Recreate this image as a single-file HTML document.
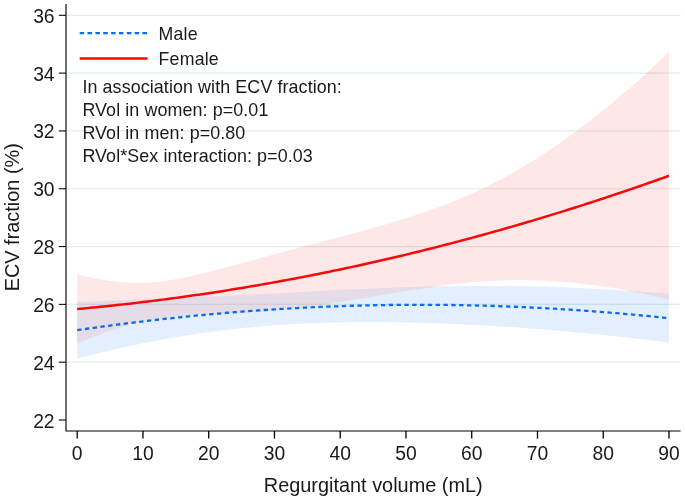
<!DOCTYPE html>
<html><head><meta charset="utf-8"><style>
html,body{margin:0;padding:0;background:#fff;width:685px;height:503px;overflow:hidden}
svg{display:block;will-change:transform}
text{font-family:"Liberation Sans",sans-serif;fill:#1a1a1a}
</style></head><body>
<svg width="685" height="503" viewBox="0 0 685 503">
<rect width="685" height="503" fill="#fff"/>
<line x1="66.6" y1="362.19" x2="680.6" y2="362.19" stroke="#e0ecec" stroke-width="1.2"/>
<line x1="66.6" y1="304.37" x2="680.6" y2="304.37" stroke="#e0ecec" stroke-width="1.2"/>
<line x1="66.6" y1="246.56" x2="680.6" y2="246.56" stroke="#e0ecec" stroke-width="1.2"/>
<line x1="66.6" y1="188.74" x2="680.6" y2="188.74" stroke="#e0ecec" stroke-width="1.2"/>
<line x1="66.6" y1="130.93" x2="680.6" y2="130.93" stroke="#e0ecec" stroke-width="1.2"/>
<line x1="66.6" y1="73.11" x2="680.6" y2="73.11" stroke="#e0ecec" stroke-width="1.2"/>
<line x1="66.6" y1="15.30" x2="680.6" y2="15.30" stroke="#e0ecec" stroke-width="1.2"/>
<path d="M77.20,302.01 80.49,301.88 83.78,301.75 87.06,301.63 90.35,301.50 93.64,301.37 96.93,301.24 100.21,301.12 103.50,300.99 106.79,300.86 110.08,300.74 113.37,300.61 116.65,300.48 119.94,300.36 123.23,300.23 126.52,300.10 129.80,299.97 133.09,299.85 136.38,299.72 139.67,299.59 142.96,299.46 146.24,299.33 149.53,299.20 152.82,299.07 156.11,298.94 159.39,298.81 162.68,298.68 165.97,298.54 169.26,298.41 172.55,298.27 175.83,298.14 179.12,298.00 182.41,297.86 185.70,297.72 188.98,297.58 192.27,297.44 195.56,297.29 198.85,297.15 202.14,297.00 205.42,296.85 208.71,296.71 212.00,296.56 215.29,296.40 218.57,296.25 221.86,296.10 225.15,295.94 228.44,295.78 231.73,295.63 235.01,295.47 238.30,295.30 241.59,295.14 244.88,294.98 248.16,294.81 251.45,294.65 254.74,294.48 258.03,294.31 261.32,294.14 264.60,293.97 267.89,293.80 271.18,293.63 274.47,293.45 277.75,293.28 281.04,293.11 284.33,292.93 287.62,292.76 290.91,292.58 294.19,292.41 297.48,292.23 300.77,292.06 304.06,291.88 307.34,291.71 310.63,291.53 313.92,291.36 317.21,291.19 320.50,291.02 323.78,290.85 327.07,290.68 330.36,290.51 333.65,290.34 336.93,290.18 340.22,290.01 343.51,289.85 346.80,289.69 350.09,289.53 353.37,289.38 356.66,289.22 359.95,289.07 363.24,288.92 366.52,288.77 369.81,288.63 373.10,288.49 376.39,288.35 379.68,288.22 382.96,288.08 386.25,287.96 389.54,287.83 392.83,287.71 396.11,287.59 399.40,287.47 402.69,287.36 405.98,287.25 409.27,287.15 412.55,287.05 415.84,286.95 419.13,286.86 422.42,286.77 425.70,286.69 428.99,286.61 432.28,286.53 435.57,286.46 438.86,286.39 442.14,286.33 445.43,286.27 448.72,286.22 452.01,286.17 455.29,286.12 458.58,286.08 461.87,286.05 465.16,286.02 468.45,285.99 471.73,285.97 475.02,285.95 478.31,285.94 481.60,285.94 484.88,285.93 488.17,285.94 491.46,285.94 494.75,285.96 498.04,285.98 501.32,286.00 504.61,286.03 507.90,286.06 511.19,286.10 514.47,286.14 517.76,286.19 521.05,286.24 524.34,286.30 527.63,286.37 530.91,286.43 534.20,286.51 537.49,286.59 540.78,286.67 544.06,286.76 547.35,286.85 550.64,286.95 553.93,287.06 557.22,287.17 560.50,287.28 563.79,287.40 567.08,287.53 570.37,287.66 573.65,287.79 576.94,287.93 580.23,288.08 583.52,288.23 586.81,288.39 590.09,288.55 593.38,288.71 596.67,288.88 599.96,289.06 603.24,289.24 606.53,289.43 609.82,289.62 613.11,289.81 616.40,290.01 619.68,290.22 622.97,290.43 626.26,290.64 629.55,290.86 632.83,291.09 636.12,291.32 639.41,291.55 642.70,291.79 645.99,292.04 649.27,292.29 652.56,292.54 655.85,292.80 659.14,293.06 662.42,293.33 665.71,293.60 669.00,293.88 L669.00,342.64 665.71,342.21 662.42,341.79 659.14,341.37 655.85,340.96 652.56,340.55 649.27,340.14 645.99,339.74 642.70,339.35 639.41,338.96 636.12,338.57 632.83,338.19 629.55,337.81 626.26,337.44 622.97,337.07 619.68,336.71 616.40,336.35 613.11,335.99 609.82,335.64 606.53,335.29 603.24,334.95 599.96,334.62 596.67,334.28 593.38,333.95 590.09,333.63 586.81,333.31 583.52,332.99 580.23,332.68 576.94,332.38 573.65,332.07 570.37,331.77 567.08,331.48 563.79,331.19 560.50,330.90 557.22,330.62 553.93,330.34 550.64,330.07 547.35,329.80 544.06,329.54 540.78,329.28 537.49,329.02 534.20,328.77 530.91,328.52 527.63,328.28 524.34,328.04 521.05,327.80 517.76,327.57 514.47,327.35 511.19,327.12 507.90,326.91 504.61,326.69 501.32,326.48 498.04,326.28 494.75,326.08 491.46,325.88 488.17,325.69 484.88,325.50 481.60,325.32 478.31,325.14 475.02,324.97 471.73,324.80 468.45,324.63 465.16,324.47 461.87,324.32 458.58,324.17 455.29,324.02 452.01,323.88 448.72,323.74 445.43,323.61 442.14,323.48 438.86,323.36 435.57,323.24 432.28,323.13 428.99,323.03 425.70,322.92 422.42,322.83 419.13,322.73 415.84,322.65 412.55,322.57 409.27,322.49 405.98,322.42 402.69,322.36 399.40,322.30 396.11,322.25 392.83,322.20 389.54,322.16 386.25,322.12 382.96,322.09 379.68,322.07 376.39,322.05 373.10,322.04 369.81,322.04 366.52,322.04 363.24,322.05 359.95,322.07 356.66,322.09 353.37,322.12 350.09,322.16 346.80,322.20 343.51,322.26 340.22,322.32 336.93,322.38 333.65,322.46 330.36,322.54 327.07,322.63 323.78,322.73 320.50,322.84 317.21,322.95 313.92,323.08 310.63,323.21 307.34,323.35 304.06,323.50 300.77,323.66 297.48,323.83 294.19,324.00 290.91,324.19 287.62,324.39 284.33,324.59 281.04,324.81 277.75,325.03 274.47,325.27 271.18,325.52 267.89,325.77 264.60,326.04 261.32,326.31 258.03,326.60 254.74,326.89 251.45,327.20 248.16,327.52 244.88,327.85 241.59,328.19 238.30,328.54 235.01,328.90 231.73,329.27 228.44,329.65 225.15,330.04 221.86,330.44 218.57,330.86 215.29,331.28 212.00,331.72 208.71,332.16 205.42,332.62 202.14,333.09 198.85,333.56 195.56,334.05 192.27,334.55 188.98,335.06 185.70,335.58 182.41,336.11 179.12,336.66 175.83,337.21 172.55,337.77 169.26,338.34 165.97,338.93 162.68,339.52 159.39,340.12 156.11,340.74 152.82,341.36 149.53,342.00 146.24,342.64 142.96,343.29 139.67,343.96 136.38,344.63 133.09,345.31 129.80,346.01 126.52,346.71 123.23,347.42 119.94,348.14 116.65,348.88 113.37,349.62 110.08,350.37 106.79,351.13 103.50,351.90 100.21,352.67 96.93,353.46 93.64,354.26 90.35,355.06 87.06,355.88 83.78,356.70 80.49,357.54 77.20,358.38 Z" fill="#006ef0" fill-opacity="0.11"/>
<path d="M77.20,274.40 80.49,275.23 83.78,276.02 87.06,276.78 90.35,277.50 93.64,278.18 96.93,278.82 100.21,279.42 103.50,279.97 106.79,280.48 110.08,280.95 113.37,281.37 116.65,281.74 119.94,282.06 123.23,282.33 126.52,282.54 129.80,282.71 133.09,282.81 136.38,282.86 139.67,282.86 142.96,282.79 146.24,282.67 149.53,282.50 152.82,282.27 156.11,281.98 159.39,281.64 162.68,281.25 165.97,280.81 169.26,280.32 172.55,279.79 175.83,279.22 179.12,278.62 182.41,277.97 185.70,277.30 188.98,276.60 192.27,275.87 195.56,275.11 198.85,274.34 202.14,273.55 205.42,272.74 208.71,271.91 212.00,271.08 215.29,270.23 218.57,269.37 221.86,268.51 225.15,267.63 228.44,266.76 231.73,265.87 235.01,264.99 238.30,264.10 241.59,263.21 244.88,262.32 248.16,261.43 251.45,260.53 254.74,259.64 258.03,258.75 261.32,257.86 264.60,256.97 267.89,256.08 271.18,255.19 274.47,254.31 277.75,253.42 281.04,252.54 284.33,251.66 287.62,250.79 290.91,249.91 294.19,249.04 297.48,248.16 300.77,247.29 304.06,246.43 307.34,245.56 310.63,244.69 313.92,243.83 317.21,242.96 320.50,242.10 323.78,241.23 327.07,240.37 330.36,239.50 333.65,238.63 336.93,237.76 340.22,236.89 343.51,236.02 346.80,235.14 350.09,234.26 353.37,233.38 356.66,232.49 359.95,231.60 363.24,230.70 366.52,229.80 369.81,228.89 373.10,227.97 376.39,227.04 379.68,226.11 382.96,225.16 386.25,224.21 389.54,223.24 392.83,222.27 396.11,221.28 399.40,220.27 402.69,219.26 405.98,218.23 409.27,217.18 412.55,216.12 415.84,215.04 419.13,213.94 422.42,212.83 425.70,211.69 428.99,210.54 432.28,209.36 435.57,208.17 438.86,206.95 442.14,205.71 445.43,204.44 448.72,203.15 452.01,201.84 455.29,200.50 458.58,199.14 461.87,197.75 465.16,196.34 468.45,194.89 471.73,193.42 475.02,191.93 478.31,190.40 481.60,188.85 484.88,187.26 488.17,185.65 491.46,184.01 494.75,182.34 498.04,180.64 501.32,178.91 504.61,177.15 507.90,175.36 511.19,173.54 514.47,171.69 517.76,169.81 521.05,167.89 524.34,165.95 527.63,163.98 530.91,161.98 534.20,159.95 537.49,157.88 540.78,155.79 544.06,153.67 547.35,151.51 550.64,149.33 553.93,147.12 557.22,144.88 560.50,142.60 563.79,140.30 567.08,137.97 570.37,135.61 573.65,133.22 576.94,130.80 580.23,128.35 583.52,125.87 586.81,123.37 590.09,120.83 593.38,118.27 596.67,115.68 599.96,113.06 603.24,110.41 606.53,107.73 609.82,105.02 613.11,102.29 616.40,99.53 619.68,96.74 622.97,93.92 626.26,91.08 629.55,88.21 632.83,85.31 636.12,82.38 639.41,79.43 642.70,76.45 645.99,73.44 649.27,70.40 652.56,67.34 655.85,64.25 659.14,61.14 662.42,58.00 665.71,54.83 669.00,51.63 L669.00,299.91 665.71,299.08 662.42,298.26 659.14,297.46 655.85,296.67 652.56,295.90 649.27,295.15 645.99,294.42 642.70,293.70 639.41,293.00 636.12,292.32 632.83,291.65 629.55,291.00 626.26,290.37 622.97,289.76 619.68,289.17 616.40,288.59 613.11,288.03 609.82,287.49 606.53,286.97 603.24,286.46 599.96,285.98 596.67,285.51 593.38,285.06 590.09,284.63 586.81,284.22 583.52,283.83 580.23,283.46 576.94,283.10 573.65,282.77 570.37,282.45 567.08,282.16 563.79,281.88 560.50,281.62 557.22,281.39 553.93,281.17 550.64,280.97 547.35,280.79 544.06,280.64 540.78,280.50 537.49,280.39 534.20,280.29 530.91,280.21 527.63,280.16 524.34,280.12 521.05,280.11 517.76,280.12 514.47,280.14 511.19,280.19 507.90,280.26 504.61,280.35 501.32,280.45 498.04,280.58 494.75,280.73 491.46,280.90 488.17,281.09 484.88,281.29 481.60,281.52 478.31,281.77 475.02,282.03 471.73,282.31 468.45,282.61 465.16,282.93 461.87,283.27 458.58,283.62 455.29,283.99 452.01,284.37 448.72,284.77 445.43,285.18 442.14,285.61 438.86,286.05 435.57,286.51 432.28,286.97 428.99,287.45 425.70,287.94 422.42,288.44 419.13,288.95 415.84,289.46 412.55,289.99 409.27,290.52 405.98,291.05 402.69,291.60 399.40,292.14 396.11,292.70 392.83,293.25 389.54,293.81 386.25,294.37 382.96,294.93 379.68,295.49 376.39,296.05 373.10,296.61 369.81,297.17 366.52,297.72 363.24,298.27 359.95,298.82 356.66,299.37 353.37,299.91 350.09,300.44 346.80,300.97 343.51,301.49 340.22,302.00 336.93,302.51 333.65,303.01 330.36,303.50 327.07,303.98 323.78,304.46 320.50,304.92 317.21,305.37 313.92,305.82 310.63,306.25 307.34,306.67 304.06,307.09 300.77,307.49 297.48,307.88 294.19,308.25 290.91,308.62 287.62,308.98 284.33,309.32 281.04,309.65 277.75,309.97 274.47,310.28 271.18,310.57 267.89,310.86 264.60,311.13 261.32,311.39 258.03,311.65 254.74,311.89 251.45,312.12 248.16,312.34 244.88,312.55 241.59,312.75 238.30,312.94 235.01,313.12 231.73,313.30 228.44,313.47 225.15,313.64 221.86,313.80 218.57,313.96 215.29,314.12 212.00,314.28 208.71,314.43 205.42,314.59 202.14,314.76 198.85,314.93 195.56,315.11 192.27,315.31 188.98,315.51 185.70,315.73 182.41,315.98 179.12,316.24 175.83,316.53 172.55,316.85 169.26,317.19 165.97,317.58 162.68,317.99 159.39,318.45 156.11,318.95 152.82,319.49 149.53,320.08 146.24,320.71 142.96,321.39 139.67,322.11 136.38,322.88 133.09,323.70 129.80,324.57 126.52,325.48 123.23,326.44 119.94,327.44 116.65,328.48 113.37,329.56 110.08,330.68 106.79,331.83 103.50,333.02 100.21,334.25 96.93,335.51 93.64,336.80 90.35,338.12 87.06,339.47 83.78,340.85 80.49,342.26 77.20,343.69 Z" fill="#f00000" fill-opacity="0.094"/>
<clipPath id="mc"><path d="M77.20,302.01 80.49,301.88 83.78,301.75 87.06,301.63 90.35,301.50 93.64,301.37 96.93,301.24 100.21,301.12 103.50,300.99 106.79,300.86 110.08,300.74 113.37,300.61 116.65,300.48 119.94,300.36 123.23,300.23 126.52,300.10 129.80,299.97 133.09,299.85 136.38,299.72 139.67,299.59 142.96,299.46 146.24,299.33 149.53,299.20 152.82,299.07 156.11,298.94 159.39,298.81 162.68,298.68 165.97,298.54 169.26,298.41 172.55,298.27 175.83,298.14 179.12,298.00 182.41,297.86 185.70,297.72 188.98,297.58 192.27,297.44 195.56,297.29 198.85,297.15 202.14,297.00 205.42,296.85 208.71,296.71 212.00,296.56 215.29,296.40 218.57,296.25 221.86,296.10 225.15,295.94 228.44,295.78 231.73,295.63 235.01,295.47 238.30,295.30 241.59,295.14 244.88,294.98 248.16,294.81 251.45,294.65 254.74,294.48 258.03,294.31 261.32,294.14 264.60,293.97 267.89,293.80 271.18,293.63 274.47,293.45 277.75,293.28 281.04,293.11 284.33,292.93 287.62,292.76 290.91,292.58 294.19,292.41 297.48,292.23 300.77,292.06 304.06,291.88 307.34,291.71 310.63,291.53 313.92,291.36 317.21,291.19 320.50,291.02 323.78,290.85 327.07,290.68 330.36,290.51 333.65,290.34 336.93,290.18 340.22,290.01 343.51,289.85 346.80,289.69 350.09,289.53 353.37,289.38 356.66,289.22 359.95,289.07 363.24,288.92 366.52,288.77 369.81,288.63 373.10,288.49 376.39,288.35 379.68,288.22 382.96,288.08 386.25,287.96 389.54,287.83 392.83,287.71 396.11,287.59 399.40,287.47 402.69,287.36 405.98,287.25 409.27,287.15 412.55,287.05 415.84,286.95 419.13,286.86 422.42,286.77 425.70,286.69 428.99,286.61 432.28,286.53 435.57,286.46 438.86,286.39 442.14,286.33 445.43,286.27 448.72,286.22 452.01,286.17 455.29,286.12 458.58,286.08 461.87,286.05 465.16,286.02 468.45,285.99 471.73,285.97 475.02,285.95 478.31,285.94 481.60,285.94 484.88,285.93 488.17,285.94 491.46,285.94 494.75,285.96 498.04,285.98 501.32,286.00 504.61,286.03 507.90,286.06 511.19,286.10 514.47,286.14 517.76,286.19 521.05,286.24 524.34,286.30 527.63,286.37 530.91,286.43 534.20,286.51 537.49,286.59 540.78,286.67 544.06,286.76 547.35,286.85 550.64,286.95 553.93,287.06 557.22,287.17 560.50,287.28 563.79,287.40 567.08,287.53 570.37,287.66 573.65,287.79 576.94,287.93 580.23,288.08 583.52,288.23 586.81,288.39 590.09,288.55 593.38,288.71 596.67,288.88 599.96,289.06 603.24,289.24 606.53,289.43 609.82,289.62 613.11,289.81 616.40,290.01 619.68,290.22 622.97,290.43 626.26,290.64 629.55,290.86 632.83,291.09 636.12,291.32 639.41,291.55 642.70,291.79 645.99,292.04 649.27,292.29 652.56,292.54 655.85,292.80 659.14,293.06 662.42,293.33 665.71,293.60 669.00,293.88 L669.00,342.64 665.71,342.21 662.42,341.79 659.14,341.37 655.85,340.96 652.56,340.55 649.27,340.14 645.99,339.74 642.70,339.35 639.41,338.96 636.12,338.57 632.83,338.19 629.55,337.81 626.26,337.44 622.97,337.07 619.68,336.71 616.40,336.35 613.11,335.99 609.82,335.64 606.53,335.29 603.24,334.95 599.96,334.62 596.67,334.28 593.38,333.95 590.09,333.63 586.81,333.31 583.52,332.99 580.23,332.68 576.94,332.38 573.65,332.07 570.37,331.77 567.08,331.48 563.79,331.19 560.50,330.90 557.22,330.62 553.93,330.34 550.64,330.07 547.35,329.80 544.06,329.54 540.78,329.28 537.49,329.02 534.20,328.77 530.91,328.52 527.63,328.28 524.34,328.04 521.05,327.80 517.76,327.57 514.47,327.35 511.19,327.12 507.90,326.91 504.61,326.69 501.32,326.48 498.04,326.28 494.75,326.08 491.46,325.88 488.17,325.69 484.88,325.50 481.60,325.32 478.31,325.14 475.02,324.97 471.73,324.80 468.45,324.63 465.16,324.47 461.87,324.32 458.58,324.17 455.29,324.02 452.01,323.88 448.72,323.74 445.43,323.61 442.14,323.48 438.86,323.36 435.57,323.24 432.28,323.13 428.99,323.03 425.70,322.92 422.42,322.83 419.13,322.73 415.84,322.65 412.55,322.57 409.27,322.49 405.98,322.42 402.69,322.36 399.40,322.30 396.11,322.25 392.83,322.20 389.54,322.16 386.25,322.12 382.96,322.09 379.68,322.07 376.39,322.05 373.10,322.04 369.81,322.04 366.52,322.04 363.24,322.05 359.95,322.07 356.66,322.09 353.37,322.12 350.09,322.16 346.80,322.20 343.51,322.26 340.22,322.32 336.93,322.38 333.65,322.46 330.36,322.54 327.07,322.63 323.78,322.73 320.50,322.84 317.21,322.95 313.92,323.08 310.63,323.21 307.34,323.35 304.06,323.50 300.77,323.66 297.48,323.83 294.19,324.00 290.91,324.19 287.62,324.39 284.33,324.59 281.04,324.81 277.75,325.03 274.47,325.27 271.18,325.52 267.89,325.77 264.60,326.04 261.32,326.31 258.03,326.60 254.74,326.89 251.45,327.20 248.16,327.52 244.88,327.85 241.59,328.19 238.30,328.54 235.01,328.90 231.73,329.27 228.44,329.65 225.15,330.04 221.86,330.44 218.57,330.86 215.29,331.28 212.00,331.72 208.71,332.16 205.42,332.62 202.14,333.09 198.85,333.56 195.56,334.05 192.27,334.55 188.98,335.06 185.70,335.58 182.41,336.11 179.12,336.66 175.83,337.21 172.55,337.77 169.26,338.34 165.97,338.93 162.68,339.52 159.39,340.12 156.11,340.74 152.82,341.36 149.53,342.00 146.24,342.64 142.96,343.29 139.67,343.96 136.38,344.63 133.09,345.31 129.80,346.01 126.52,346.71 123.23,347.42 119.94,348.14 116.65,348.88 113.37,349.62 110.08,350.37 106.79,351.13 103.50,351.90 100.21,352.67 96.93,353.46 93.64,354.26 90.35,355.06 87.06,355.88 83.78,356.70 80.49,357.54 77.20,358.38 Z"/></clipPath>
<path d="M77.20,274.40 80.49,275.23 83.78,276.02 87.06,276.78 90.35,277.50 93.64,278.18 96.93,278.82 100.21,279.42 103.50,279.97 106.79,280.48 110.08,280.95 113.37,281.37 116.65,281.74 119.94,282.06 123.23,282.33 126.52,282.54 129.80,282.71 133.09,282.81 136.38,282.86 139.67,282.86 142.96,282.79 146.24,282.67 149.53,282.50 152.82,282.27 156.11,281.98 159.39,281.64 162.68,281.25 165.97,280.81 169.26,280.32 172.55,279.79 175.83,279.22 179.12,278.62 182.41,277.97 185.70,277.30 188.98,276.60 192.27,275.87 195.56,275.11 198.85,274.34 202.14,273.55 205.42,272.74 208.71,271.91 212.00,271.08 215.29,270.23 218.57,269.37 221.86,268.51 225.15,267.63 228.44,266.76 231.73,265.87 235.01,264.99 238.30,264.10 241.59,263.21 244.88,262.32 248.16,261.43 251.45,260.53 254.74,259.64 258.03,258.75 261.32,257.86 264.60,256.97 267.89,256.08 271.18,255.19 274.47,254.31 277.75,253.42 281.04,252.54 284.33,251.66 287.62,250.79 290.91,249.91 294.19,249.04 297.48,248.16 300.77,247.29 304.06,246.43 307.34,245.56 310.63,244.69 313.92,243.83 317.21,242.96 320.50,242.10 323.78,241.23 327.07,240.37 330.36,239.50 333.65,238.63 336.93,237.76 340.22,236.89 343.51,236.02 346.80,235.14 350.09,234.26 353.37,233.38 356.66,232.49 359.95,231.60 363.24,230.70 366.52,229.80 369.81,228.89 373.10,227.97 376.39,227.04 379.68,226.11 382.96,225.16 386.25,224.21 389.54,223.24 392.83,222.27 396.11,221.28 399.40,220.27 402.69,219.26 405.98,218.23 409.27,217.18 412.55,216.12 415.84,215.04 419.13,213.94 422.42,212.83 425.70,211.69 428.99,210.54 432.28,209.36 435.57,208.17 438.86,206.95 442.14,205.71 445.43,204.44 448.72,203.15 452.01,201.84 455.29,200.50 458.58,199.14 461.87,197.75 465.16,196.34 468.45,194.89 471.73,193.42 475.02,191.93 478.31,190.40 481.60,188.85 484.88,187.26 488.17,185.65 491.46,184.01 494.75,182.34 498.04,180.64 501.32,178.91 504.61,177.15 507.90,175.36 511.19,173.54 514.47,171.69 517.76,169.81 521.05,167.89 524.34,165.95 527.63,163.98 530.91,161.98 534.20,159.95 537.49,157.88 540.78,155.79 544.06,153.67 547.35,151.51 550.64,149.33 553.93,147.12 557.22,144.88 560.50,142.60 563.79,140.30 567.08,137.97 570.37,135.61 573.65,133.22 576.94,130.80 580.23,128.35 583.52,125.87 586.81,123.37 590.09,120.83 593.38,118.27 596.67,115.68 599.96,113.06 603.24,110.41 606.53,107.73 609.82,105.02 613.11,102.29 616.40,99.53 619.68,96.74 622.97,93.92 626.26,91.08 629.55,88.21 632.83,85.31 636.12,82.38 639.41,79.43 642.70,76.45 645.99,73.44 649.27,70.40 652.56,67.34 655.85,64.25 659.14,61.14 662.42,58.00 665.71,54.83 669.00,51.63 L669.00,299.91 665.71,299.08 662.42,298.26 659.14,297.46 655.85,296.67 652.56,295.90 649.27,295.15 645.99,294.42 642.70,293.70 639.41,293.00 636.12,292.32 632.83,291.65 629.55,291.00 626.26,290.37 622.97,289.76 619.68,289.17 616.40,288.59 613.11,288.03 609.82,287.49 606.53,286.97 603.24,286.46 599.96,285.98 596.67,285.51 593.38,285.06 590.09,284.63 586.81,284.22 583.52,283.83 580.23,283.46 576.94,283.10 573.65,282.77 570.37,282.45 567.08,282.16 563.79,281.88 560.50,281.62 557.22,281.39 553.93,281.17 550.64,280.97 547.35,280.79 544.06,280.64 540.78,280.50 537.49,280.39 534.20,280.29 530.91,280.21 527.63,280.16 524.34,280.12 521.05,280.11 517.76,280.12 514.47,280.14 511.19,280.19 507.90,280.26 504.61,280.35 501.32,280.45 498.04,280.58 494.75,280.73 491.46,280.90 488.17,281.09 484.88,281.29 481.60,281.52 478.31,281.77 475.02,282.03 471.73,282.31 468.45,282.61 465.16,282.93 461.87,283.27 458.58,283.62 455.29,283.99 452.01,284.37 448.72,284.77 445.43,285.18 442.14,285.61 438.86,286.05 435.57,286.51 432.28,286.97 428.99,287.45 425.70,287.94 422.42,288.44 419.13,288.95 415.84,289.46 412.55,289.99 409.27,290.52 405.98,291.05 402.69,291.60 399.40,292.14 396.11,292.70 392.83,293.25 389.54,293.81 386.25,294.37 382.96,294.93 379.68,295.49 376.39,296.05 373.10,296.61 369.81,297.17 366.52,297.72 363.24,298.27 359.95,298.82 356.66,299.37 353.37,299.91 350.09,300.44 346.80,300.97 343.51,301.49 340.22,302.00 336.93,302.51 333.65,303.01 330.36,303.50 327.07,303.98 323.78,304.46 320.50,304.92 317.21,305.37 313.92,305.82 310.63,306.25 307.34,306.67 304.06,307.09 300.77,307.49 297.48,307.88 294.19,308.25 290.91,308.62 287.62,308.98 284.33,309.32 281.04,309.65 277.75,309.97 274.47,310.28 271.18,310.57 267.89,310.86 264.60,311.13 261.32,311.39 258.03,311.65 254.74,311.89 251.45,312.12 248.16,312.34 244.88,312.55 241.59,312.75 238.30,312.94 235.01,313.12 231.73,313.30 228.44,313.47 225.15,313.64 221.86,313.80 218.57,313.96 215.29,314.12 212.00,314.28 208.71,314.43 205.42,314.59 202.14,314.76 198.85,314.93 195.56,315.11 192.27,315.31 188.98,315.51 185.70,315.73 182.41,315.98 179.12,316.24 175.83,316.53 172.55,316.85 169.26,317.19 165.97,317.58 162.68,317.99 159.39,318.45 156.11,318.95 152.82,319.49 149.53,320.08 146.24,320.71 142.96,321.39 139.67,322.11 136.38,322.88 133.09,323.70 129.80,324.57 126.52,325.48 123.23,326.44 119.94,327.44 116.65,328.48 113.37,329.56 110.08,330.68 106.79,331.83 103.50,333.02 100.21,334.25 96.93,335.51 93.64,336.80 90.35,338.12 87.06,339.47 83.78,340.85 80.49,342.26 77.20,343.69 Z" fill="#fff" fill-opacity="0.1" clip-path="url(#mc)"/>
<polyline points="77.20,330.19 80.49,329.71 83.78,329.23 87.06,328.75 90.35,328.28 93.64,327.81 96.93,327.35 100.21,326.90 103.50,326.44 106.79,326.00 110.08,325.55 113.37,325.11 116.65,324.68 119.94,324.25 123.23,323.83 126.52,323.41 129.80,322.99 133.09,322.58 136.38,322.18 139.67,321.77 142.96,321.38 146.24,320.99 149.53,320.60 152.82,320.22 156.11,319.84 159.39,319.47 162.68,319.10 165.97,318.73 169.26,318.38 172.55,318.02 175.83,317.67 179.12,317.33 182.41,316.99 185.70,316.65 188.98,316.32 192.27,315.99 195.56,315.67 198.85,315.36 202.14,315.04 205.42,314.74 208.71,314.43 212.00,314.14 215.29,313.84 218.57,313.55 221.86,313.27 225.15,312.99 228.44,312.72 231.73,312.45 235.01,312.18 238.30,311.92 241.59,311.66 244.88,311.41 248.16,311.17 251.45,310.92 254.74,310.69 258.03,310.45 261.32,310.23 264.60,310.00 267.89,309.79 271.18,309.57 274.47,309.36 277.75,309.16 281.04,308.96 284.33,308.76 287.62,308.57 290.91,308.39 294.19,308.21 297.48,308.03 300.77,307.86 304.06,307.69 307.34,307.53 310.63,307.37 313.92,307.22 317.21,307.07 320.50,306.93 323.78,306.79 327.07,306.65 330.36,306.52 333.65,306.40 336.93,306.28 340.22,306.16 343.51,306.05 346.80,305.95 350.09,305.85 353.37,305.75 356.66,305.66 359.95,305.57 363.24,305.49 366.52,305.41 369.81,305.34 373.10,305.27 376.39,305.20 379.68,305.14 382.96,305.09 386.25,305.04 389.54,304.99 392.83,304.95 396.11,304.92 399.40,304.89 402.69,304.86 405.98,304.84 409.27,304.82 412.55,304.81 415.84,304.80 419.13,304.80 422.42,304.80 425.70,304.81 428.99,304.82 432.28,304.83 435.57,304.85 438.86,304.88 442.14,304.91 445.43,304.94 448.72,304.98 452.01,305.02 455.29,305.07 458.58,305.13 461.87,305.18 465.16,305.25 468.45,305.31 471.73,305.38 475.02,305.46 478.31,305.54 481.60,305.63 484.88,305.72 488.17,305.81 491.46,305.91 494.75,306.02 498.04,306.13 501.32,306.24 504.61,306.36 507.90,306.48 511.19,306.61 514.47,306.74 517.76,306.88 521.05,307.02 524.34,307.17 527.63,307.32 530.91,307.48 534.20,307.64 537.49,307.80 540.78,307.97 544.06,308.15 547.35,308.33 550.64,308.51 553.93,308.70 557.22,308.90 560.50,309.09 563.79,309.30 567.08,309.50 570.37,309.72 573.65,309.93 576.94,310.15 580.23,310.38 583.52,310.61 586.81,310.85 590.09,311.09 593.38,311.33 596.67,311.58 599.96,311.84 603.24,312.10 606.53,312.36 609.82,312.63 613.11,312.90 616.40,313.18 619.68,313.46 622.97,313.75 626.26,314.04 629.55,314.34 632.83,314.64 636.12,314.94 639.41,315.26 642.70,315.57 645.99,315.89 649.27,316.22 652.56,316.54 655.85,316.88 659.14,317.22 662.42,317.56 665.71,317.91 669.00,318.26" fill="none" stroke="#0a6cf0" stroke-width="2.3" stroke-dasharray="4.35 3.47"/>
<polyline points="77.20,309.04 80.49,308.74 83.78,308.44 87.06,308.13 90.35,307.81 93.64,307.49 96.93,307.16 100.21,306.83 103.50,306.50 106.79,306.16 110.08,305.81 113.37,305.46 116.65,305.11 119.94,304.75 123.23,304.38 126.52,304.01 129.80,303.64 133.09,303.26 136.38,302.87 139.67,302.48 142.96,302.09 146.24,301.69 149.53,301.29 152.82,300.88 156.11,300.46 159.39,300.05 162.68,299.62 165.97,299.19 169.26,298.76 172.55,298.32 175.83,297.88 179.12,297.43 182.41,296.98 185.70,296.52 188.98,296.05 192.27,295.59 195.56,295.11 198.85,294.64 202.14,294.15 205.42,293.67 208.71,293.17 212.00,292.68 215.29,292.17 218.57,291.67 221.86,291.15 225.15,290.64 228.44,290.12 231.73,289.59 235.01,289.06 238.30,288.52 241.59,287.98 244.88,287.43 248.16,286.88 251.45,286.32 254.74,285.76 258.03,285.20 261.32,284.63 264.60,284.05 267.89,283.47 271.18,282.88 274.47,282.29 277.75,281.70 281.04,281.10 284.33,280.49 287.62,279.88 290.91,279.27 294.19,278.65 297.48,278.02 300.77,277.39 304.06,276.76 307.34,276.12 310.63,275.47 313.92,274.82 317.21,274.17 320.50,273.51 323.78,272.84 327.07,272.17 330.36,271.50 333.65,270.82 336.93,270.14 340.22,269.45 343.51,268.75 346.80,268.06 350.09,267.35 353.37,266.64 356.66,265.93 359.95,265.21 363.24,264.49 366.52,263.76 369.81,263.03 373.10,262.29 376.39,261.55 379.68,260.80 382.96,260.05 386.25,259.29 389.54,258.53 392.83,257.76 396.11,256.99 399.40,256.21 402.69,255.43 405.98,254.64 409.27,253.85 412.55,253.05 415.84,252.25 419.13,251.44 422.42,250.63 425.70,249.82 428.99,248.99 432.28,248.17 435.57,247.34 438.86,246.50 442.14,245.66 445.43,244.81 448.72,243.96 452.01,243.11 455.29,242.25 458.58,241.38 461.87,240.51 465.16,239.63 468.45,238.75 471.73,237.87 475.02,236.98 478.31,236.08 481.60,235.18 484.88,234.28 488.17,233.37 491.46,232.45 494.75,231.54 498.04,230.61 501.32,229.68 504.61,228.75 507.90,227.81 511.19,226.86 514.47,225.91 517.76,224.96 521.05,224.00 524.34,223.04 527.63,222.07 530.91,221.10 534.20,220.12 537.49,219.13 540.78,218.15 544.06,217.15 547.35,216.15 550.64,215.15 553.93,214.14 557.22,213.13 560.50,212.11 563.79,211.09 567.08,210.06 570.37,209.03 573.65,207.99 576.94,206.95 580.23,205.90 583.52,204.85 586.81,203.79 590.09,202.73 593.38,201.67 596.67,200.59 599.96,199.52 603.24,198.44 606.53,197.35 609.82,196.26 613.11,195.16 616.40,194.06 619.68,192.95 622.97,191.84 626.26,190.73 629.55,189.61 632.83,188.48 636.12,187.35 639.41,186.21 642.70,185.07 645.99,183.93 649.27,182.78 652.56,181.62 655.85,180.46 659.14,179.30 662.42,178.13 665.71,176.95 669.00,175.77" fill="none" stroke="#f50a0a" stroke-width="2.5" stroke-linejoin="round"/>
<path d="M66 4 V431.0 H680.6" fill="none" stroke="#000" stroke-width="1.12" stroke-linejoin="round"/>
<line x1="58.8" y1="420.00" x2="66" y2="420.00" stroke="#000" stroke-width="1.06"/>
<text x="33.15" y="427.51" font-size="19.3">22</text>
<line x1="58.8" y1="362.19" x2="66" y2="362.19" stroke="#000" stroke-width="1.06"/>
<text x="33.15" y="369.70" font-size="19.3">24</text>
<line x1="58.8" y1="304.37" x2="66" y2="304.37" stroke="#000" stroke-width="1.06"/>
<text x="33.15" y="311.88" font-size="19.3">26</text>
<line x1="58.8" y1="246.56" x2="66" y2="246.56" stroke="#000" stroke-width="1.06"/>
<text x="33.15" y="254.07" font-size="19.3">28</text>
<line x1="58.8" y1="188.74" x2="66" y2="188.74" stroke="#000" stroke-width="1.06"/>
<text x="33.15" y="196.25" font-size="19.3">30</text>
<line x1="58.8" y1="130.93" x2="66" y2="130.93" stroke="#000" stroke-width="1.06"/>
<text x="33.15" y="138.44" font-size="19.3">32</text>
<line x1="58.8" y1="73.11" x2="66" y2="73.11" stroke="#000" stroke-width="1.06"/>
<text x="33.15" y="80.62" font-size="19.3">34</text>
<line x1="58.8" y1="15.30" x2="66" y2="15.30" stroke="#000" stroke-width="1.06"/>
<text x="33.15" y="22.81" font-size="19.3">36</text>
<line x1="77.20" y1="431" x2="77.20" y2="438.6" stroke="#000" stroke-width="1.3"/>
<text x="71.83" y="459.6" font-size="19.3">0</text>
<line x1="142.96" y1="431" x2="142.96" y2="438.6" stroke="#000" stroke-width="1.3"/>
<text x="132.23" y="459.6" font-size="19.3">10</text>
<line x1="208.71" y1="431" x2="208.71" y2="438.6" stroke="#000" stroke-width="1.3"/>
<text x="197.99" y="459.6" font-size="19.3">20</text>
<line x1="274.47" y1="431" x2="274.47" y2="438.6" stroke="#000" stroke-width="1.3"/>
<text x="263.74" y="459.6" font-size="19.3">30</text>
<line x1="340.22" y1="431" x2="340.22" y2="438.6" stroke="#000" stroke-width="1.3"/>
<text x="329.50" y="459.6" font-size="19.3">40</text>
<line x1="405.98" y1="431" x2="405.98" y2="438.6" stroke="#000" stroke-width="1.3"/>
<text x="395.25" y="459.6" font-size="19.3">50</text>
<line x1="471.73" y1="431" x2="471.73" y2="438.6" stroke="#000" stroke-width="1.3"/>
<text x="461.01" y="459.6" font-size="19.3">60</text>
<line x1="537.49" y1="431" x2="537.49" y2="438.6" stroke="#000" stroke-width="1.3"/>
<text x="526.76" y="459.6" font-size="19.3">70</text>
<line x1="603.24" y1="431" x2="603.24" y2="438.6" stroke="#000" stroke-width="1.3"/>
<text x="592.52" y="459.6" font-size="19.3">80</text>
<line x1="669.00" y1="431" x2="669.00" y2="438.6" stroke="#000" stroke-width="1.3"/>
<text x="658.27" y="459.6" font-size="19.3">90</text>
<line x1="79.7" y1="33.1" x2="147" y2="33.1" stroke="#0a6cf0" stroke-width="2.2" stroke-dasharray="4.5 3.35"/>
<line x1="79.7" y1="58.4" x2="147.6" y2="58.4" stroke="#f50a0a" stroke-width="2.5"/>
<text x="158.60" y="39.60" font-size="17.7" letter-spacing="0.22">Male</text>
<text x="158.60" y="65.00" font-size="17.7" letter-spacing="0.22">Female</text>
<text x="82.40" y="93.10" font-size="17.9" letter-spacing="0.09">In association with ECV fraction:</text>
<text x="82.40" y="116.20" font-size="17.9" letter-spacing="0.09">RVol in women: p=0.01</text>
<text x="82.40" y="139.20" font-size="17.9" letter-spacing="0.09">RVol in men: p=0.80</text>
<text x="82.40" y="162.30" font-size="17.9" letter-spacing="0.09">RVol*Sex interaction: p=0.03</text>
<text x="263.80" y="492.30" font-size="19.9">Regurgitant volume (mL)</text>
<text transform="translate(19.45 291.30) rotate(-90)" x="0" y="0" font-size="19.9">ECV fraction (%)</text>
</svg>
</body></html>
